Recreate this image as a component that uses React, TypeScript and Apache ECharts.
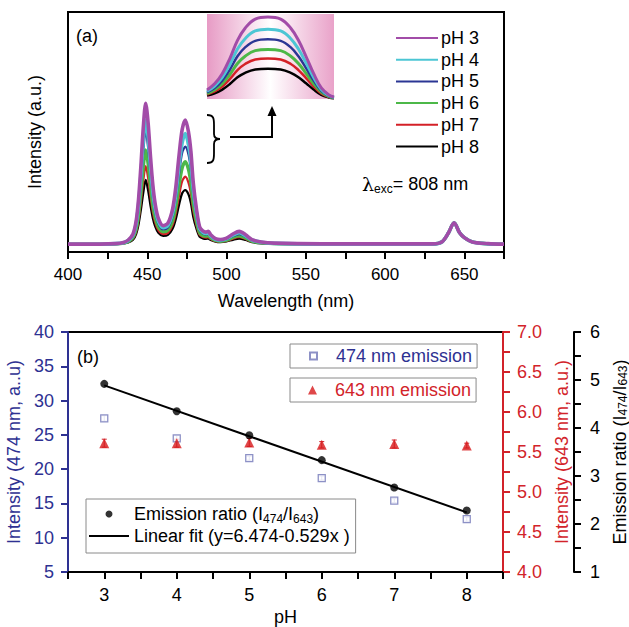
import React, { useEffect, useRef } from 'react';
import * as echarts from 'echarts';

// ---------- Panel (a): emission spectra ----------
const wavelengths = [400, 420, 430, 435, 438, 441, 443, 444.5, 446, 447.5, 449, 450.5, 452, 453.5, 455, 457, 460, 463, 466, 468, 470, 472, 474, 476, 477.5, 479, 481, 483, 485, 487, 488.5, 490, 493, 496, 500, 504, 508, 512, 516, 522, 530, 560, 600, 630, 636, 640, 643.5, 647, 650, 655, 665, 675];
const specPH3 = [3.3, 3.3, 3.5, 4.0, 5.0, 7.5, 13, 22, 36, 52, 62, 54, 40, 28, 20, 14, 11, 12, 18, 27, 40, 51, 55, 50, 42, 29, 18, 10.5, 8.8, 8.3, 8.6, 7.2, 5.6, 5.2, 5.8, 7.5, 8.6, 7.2, 5.2, 4.2, 3.7, 3.4, 3.4, 3.4, 4.3, 8.0, 12.2, 8.0, 6.0, 4.2, 3.5, 3.3];
const specPH4 = [3.2, 3.2, 3.5, 3.9, 4.8, 7.0, 11.9, 19.8, 32.2, 46.4, 55.0, 48.2, 35.8, 25.1, 18.1, 12.8, 10.1, 11.0, 16.3, 24.3, 35.8, 45.5, 49.4, 44.6, 37.5, 26.0, 16.3, 9.7, 8.2, 7.7, 8.0, 6.7, 5.3, 5.0, 5.5, 7.0, 8.0, 6.7, 5.0, 4.1, 3.6, 3.3, 3.3, 3.3, 4.3, 8.0, 12.2, 8.0, 6.0, 4.2, 3.4, 3.2];
const specPH5 = [3.2, 3.2, 3.4, 3.8, 4.6, 6.6, 11.0, 18.2, 29.4, 42.2, 50.8, 43.8, 32.6, 23.0, 16.6, 11.8, 9.4, 10.2, 15.0, 22.2, 32.6, 41.4, 43.9, 40.6, 34.2, 23.8, 15.0, 9.0, 7.7, 7.3, 7.5, 6.4, 5.1, 4.8, 5.3, 6.6, 7.5, 6.4, 4.8, 4.0, 3.6, 3.3, 3.3, 3.3, 4.3, 8.0, 12.2, 8.0, 6.0, 4.2, 3.4, 3.2];
const specPH6 = [3.2, 3.2, 3.4, 3.7, 4.4, 6.1, 9.7, 15.7, 25.0, 35.7, 42.5, 37.0, 27.7, 19.7, 14.4, 10.4, 8.4, 9.1, 13.1, 19.1, 27.7, 35.0, 37.6, 34.4, 29.0, 20.4, 13.1, 8.1, 6.9, 6.6, 6.8, 5.9, 4.8, 4.5, 4.9, 6.1, 6.8, 5.9, 4.5, 3.9, 3.5, 3.3, 3.3, 3.3, 4.3, 8.0, 12.2, 8.0, 6.0, 4.2, 3.4, 3.2];
const specPH7 = [3.2, 3.2, 3.4, 3.6, 4.2, 5.6, 8.6, 13.5, 21.2, 30.0, 35.8, 31.1, 23.4, 16.8, 12.4, 9.1, 7.5, 8.0, 11.3, 16.3, 23.4, 29.5, 31.4, 28.9, 24.5, 17.4, 11.3, 7.2, 6.3, 6.0, 6.2, 5.4, 4.5, 4.3, 4.6, 5.6, 6.2, 5.4, 4.3, 3.8, 3.5, 3.3, 3.3, 3.3, 4.3, 8.0, 12.2, 8.0, 6.0, 4.2, 3.4, 3.2];
const specPH8 = [3.1, 3.1, 3.3, 3.6, 4.0, 5.1, 7.6, 11.6, 17.8, 24.9, 30.0, 25.8, 19.6, 14.2, 10.7, 8.0, 6.7, 7.1, 9.8, 13.8, 19.6, 24.5, 25.8, 24.0, 20.5, 14.7, 9.8, 6.4, 5.7, 5.5, 5.6, 5.0, 4.3, 4.1, 4.4, 5.1, 5.6, 5.0, 4.1, 3.6, 3.4, 3.2, 3.2, 3.2, 4.2, 7.9, 12.1, 7.9, 5.9, 4.1, 3.3, 3.1];
const xTicksA = [400, 450, 500, 550, 600, 650];

// inset: magnified top of the 474 nm band
const insetX = [468, 468.75, 469.5, 470.25, 471, 471.75, 472.75, 474, 475.25, 476.25, 477, 477.75, 478.5, 479.25, 480, 480.5];
const insetPH3 = [9, 15, 25, 40, 58, 70, 79, 81, 79, 70, 58, 42, 25, 11, 4, 2];
const insetPH4 = [7.7, 12.8, 21.3, 34.1, 49.4, 59.6, 67.3, 69, 67.3, 59.6, 49.4, 35.8, 21.3, 9.4, 3.4, 1.7];
const insetPH5 = [6.6, 10.9, 18.2, 29.1, 42.2, 51, 57.5, 59, 57.5, 51, 42.2, 30.6, 18.2, 8, 2.9, 1.5];
const insetPH6 = [5.4, 9.1, 15.1, 24.2, 35.1, 42.3, 47.8, 49, 47.8, 42.3, 35.1, 25.4, 15.1, 6.7, 2.4, 1.2];
const insetPH7 = [4.4, 7.4, 12.3, 19.8, 28.6, 34.6, 39, 40, 39, 34.6, 28.6, 20.7, 12.3, 5.4, 2, 1];
const insetPH8 = [3.3, 5.6, 9.3, 14.8, 21.5, 25.9, 29.2, 30, 29.2, 25.9, 21.5, 15.5, 9.3, 4.1, 1.5, 0.7];

const phNames = ['pH 3', 'pH 4', 'pH 5', 'pH 6', 'pH 7', 'pH 8'];

// ---------- Panel (b) ----------
const phValues = [3, 4, 5, 6, 7, 8];
const int474 = [27.4, 24.5, 21.6, 18.7, 15.4, 12.7];
const err474 = [0.4, 0.4, 0.3, 0.3, 0.3, 0.3];
const int643 = [5.61, 5.61, 5.62, 5.59, 5.6, 5.58];
const err643 = [0.05, 0.05, 0.05, 0.04, 0.05, 0.03];
const ratio = [4.92, 4.35, 3.85, 3.33, 2.76, 2.28];
const fitX = [3, 8];
const fitY = [4.887, 2.242];

const FONT = '"Liberation Sans", Arial, sans-serif';
const BLUE = '#2e3192';
const RED = '#d2232a';
const SPEC_STYLE = [
  { color: '#a24ca8', width: 3.6 },
  { color: '#4cc6d4', width: 3.6 },
  { color: '#2b3694', width: 2.3 },
  { color: '#4cb848', width: 3.4 },
  { color: '#d42027', width: 2.3 },
  { color: '#000000', width: 2.3 },
];
const INSET_WIDTH = [3, 3, 2.5, 3, 2.5, 2.5];

const RATIO_NAME = 'Emission ratio (I474/I643)';
const FIT_NAME = 'Linear fit (y=6.474-0.529x )';

const subRich = {
  n: { fontSize: 18, lineHeight: 22, fontFamily: FONT },
  s: { fontSize: 12, lineHeight: 12, verticalAlign: 'bottom', fontFamily: FONT },
  l: { fontSize: 19, lineHeight: 22, fontFamily: '"DejaVu Serif", serif' },
};
const axisSubRich = {
  n: { fontSize: 18, lineHeight: 19, fontFamily: FONT },
  s: { fontSize: 12, lineHeight: 12, verticalAlign: 'bottom', fontFamily: FONT },
};

export default function App() {
  const ref = useRef<HTMLDivElement>(null);

  useEffect(() => {
    if (!ref.current) return;
    echarts.graphic.registerShape(
      'brace',
      echarts.graphic.extendPath(
        'M0,0 C7,0 7,4 7,10 L7,19 C7,23 9,24 13,24 C9,24 7,25 7,29 L7,38 C7,44 7,48 0,48',
        {}
      )
    );
    const chart = echarts.init(ref.current, undefined, { renderer: 'svg' });

    const specs = [specPH3, specPH4, specPH5, specPH6, specPH7, specPH8];
    const insets = [insetPH3, insetPH4, insetPH5, insetPH6, insetPH7, insetPH8];

    const spectraSeries: any[] = [];
    const insetSeries: any[] = [];
    for (let k = 5; k >= 0; k--) {
      spectraSeries.push({
        name: phNames[k],
        type: 'line',
        xAxisIndex: 0,
        yAxisIndex: 0,
        data: wavelengths.map((w, i) => [w, specs[k][i]]),
        symbol: 'none',
        showSymbol: false,
        smooth: 0.3,
        lineStyle: { color: SPEC_STYLE[k].color, width: SPEC_STYLE[k].width },
        itemStyle: { color: SPEC_STYLE[k].color },
        z: 10 - k,
      });
      insetSeries.push({
        name: 'inset ' + phNames[k],
        type: 'line',
        xAxisIndex: 2,
        yAxisIndex: 4,
        data: insetX.map((w, i) => [w, insets[k][i]]),
        symbol: 'none',
        showSymbol: false,
        smooth: 0.4,
        clip: true,
        lineStyle: { color: SPEC_STYLE[k].color, width: INSET_WIDTH[k] },
        itemStyle: { color: SPEC_STYLE[k].color },
        z: 10 - k,
      });
    }

    const errorBar = (color: string) => (params: any, api: any) => {
      const x = api.value(0);
      const lo = api.coord([x, api.value(1)]);
      const hi = api.coord([x, api.value(2)]);
      const c = 2.5;
      const st = { stroke: color, lineWidth: 1 };
      return {
        type: 'group',
        children: [
          { type: 'line', shape: { x1: lo[0], y1: lo[1], x2: hi[0], y2: hi[1] }, style: st },
          { type: 'line', shape: { x1: lo[0] - c, y1: lo[1], x2: lo[0] + c, y2: lo[1] }, style: st },
          { type: 'line', shape: { x1: hi[0] - c, y1: hi[1], x2: hi[0] + c, y2: hi[1] }, style: st },
        ],
      };
    };

    const axisLineBlack = { show: true, onZero: false, lineStyle: { color: '#000', width: 2 } };

    const option: any = {
      animation: false,
      textStyle: { fontFamily: FONT },
      grid: [
        { left: 68, top: 12, width: 436, height: 240, show: true, borderColor: '#000', borderWidth: 2, backgroundColor: 'transparent', containLabel: false, outerBoundsMode: 'none' },
        { left: 68, top: 332, width: 435, height: 240, show: true, borderColor: '#000', borderWidth: 2, backgroundColor: 'transparent', containLabel: false, outerBoundsMode: 'none' },
        {
          left: 207, top: 14, width: 127, height: 85, show: true, borderWidth: 0, containLabel: false, outerBoundsMode: 'none',
          backgroundColor: new echarts.graphic.LinearGradient(0, 0, 1, 0, [
            { offset: 0, color: '#e79bc5' },
            { offset: 0.5, color: '#ffffff' },
            { offset: 1, color: '#e9a2c9' },
          ]),
        },
      ],
      xAxis: [
        {
          gridIndex: 0, type: 'value', min: 400, max: 675, interval: 25,
          name: 'Wavelength (nm)', nameLocation: 'middle', nameGap: 40,
          nameTextStyle: { fontSize: 18, color: '#000', fontFamily: FONT },
          axisLine: axisLineBlack,
          axisTick: { show: true, inside: false, length: 7, lineStyle: { color: '#000', width: 2 } },
          axisLabel: {
            fontSize: 17, color: '#000', margin: 14,
            formatter: (v: number) => (xTicksA.includes(v) ? String(v) : ''),
          },
          splitLine: { show: false },
        },
        {
          gridIndex: 1, type: 'value', min: 2.5, max: 8.5, interval: 0.5,
          name: 'pH', nameLocation: 'middle', nameGap: 36,
          nameTextStyle: { fontSize: 18, color: '#000', fontFamily: FONT },
          axisLine: axisLineBlack,
          axisTick: { show: true, inside: false, length: 7, lineStyle: { color: '#000', width: 2 } },
          axisLabel: {
            fontSize: 18, color: '#000', margin: 14,
            formatter: (v: number) => (phValues.includes(v) ? String(v) : ''),
          },
          splitLine: { show: false },
        },
        { gridIndex: 2, type: 'value', min: 468, max: 480.5, show: false, splitLine: { show: false } },
      ],
      yAxis: [
        {
          gridIndex: 0, type: 'value', min: 0, max: 100,
          name: 'Intensity (a.u.)', nameLocation: 'middle', nameGap: 24, nameRotate: 90,
          nameTextStyle: { fontSize: 18, color: '#000', fontFamily: FONT },
          axisLine: axisLineBlack, axisTick: { show: false }, axisLabel: { show: false }, splitLine: { show: false },
        },
        {
          gridIndex: 1, type: 'value', min: 5, max: 40, interval: 5, position: 'left',
          name: 'Intensity (474 nm, a..u)', nameLocation: 'middle', nameGap: 42, nameRotate: 90,
          nameTextStyle: { fontSize: 18, color: BLUE, fontFamily: FONT },
          axisLine: { show: true, onZero: false, lineStyle: { color: BLUE, width: 2 } },
          axisTick: { show: true, inside: false, length: 7, lineStyle: { color: BLUE, width: 2 } },
          axisLabel: { fontSize: 18, color: BLUE, margin: 14 },
          splitLine: { show: false },
        },
        {
          gridIndex: 1, type: 'value', min: 4, max: 7, interval: 0.25, position: 'right',
          name: 'Intensity (643 nm, a.u.)', nameLocation: 'middle', nameGap: 44, nameRotate: 90,
          nameTextStyle: { fontSize: 18, color: RED, fontFamily: FONT },
          axisLine: { show: true, onZero: false, lineStyle: { color: RED, width: 2 } },
          axisTick: { show: true, inside: false, length: 7, lineStyle: { color: RED, width: 2 } },
          axisLabel: {
            fontSize: 18, color: RED, margin: 14,
            formatter: (v: number) => (Math.abs(v * 2 - Math.round(v * 2)) < 1e-6 ? v.toFixed(1) : ''),
          },
          splitLine: { show: false },
        },
        {
          gridIndex: 1, type: 'value', min: 1, max: 6, interval: 0.5, position: 'right', offset: 71,
          name: '{n|Emission ratio (I}{s|474}{n|/I}{s|643}{n|)}', nameLocation: 'middle', nameGap: 30, nameRotate: 90,
          nameTextStyle: { fontSize: 18, color: '#000', fontFamily: FONT, rich: axisSubRich },
          axisLine: { show: true, onZero: false, lineStyle: { color: '#000', width: 2 } },
          axisTick: { show: true, inside: false, length: 7, lineStyle: { color: '#000', width: 2 } },
          axisLabel: {
            fontSize: 18, color: '#000', margin: 16,
            formatter: (v: number) => (Math.abs(v - Math.round(v)) < 1e-6 ? String(Math.round(v)) : ''),
          },
          splitLine: { show: false },
        },
        { gridIndex: 2, type: 'value', min: 0, max: 84, show: false, splitLine: { show: false } },
      ],
      legend: [
        {
          data: phNames, orient: 'vertical', left: 395, top: 29, padding: 0,
          itemWidth: 42, itemHeight: 18, itemGap: 3.7,
          itemStyle: { opacity: 0 },
          textStyle: { fontSize: 18, color: '#000', lineHeight: 18, fontFamily: FONT, padding: [0, 0, 0, -2] },
          selectedMode: false,
        },
        {
          data: ['474 nm emission'], left: 290, top: 344, padding: [3, 5, 3, 19],
          itemWidth: 7, itemHeight: 7, borderColor: '#8a8a8a', borderWidth: 1, backgroundColor: '#fff',
          textStyle: { fontSize: 18, color: BLUE, lineHeight: 18, fontFamily: FONT, padding: [0, 0, 0, 14] },
          selectedMode: false,
        },
        {
          data: ['643 nm emission'], left: 290, top: 378, padding: [3, 5, 3, 18],
          itemWidth: 9, itemHeight: 9, borderColor: '#8a8a8a', borderWidth: 1, backgroundColor: '#fff',
          textStyle: { fontSize: 18, color: RED, lineHeight: 18, fontFamily: FONT, padding: [0, 0, 0, 13] },
          selectedMode: false,
        },
        {
          data: [RATIO_NAME, { name: FIT_NAME, itemStyle: { opacity: 0 } }],
          orient: 'vertical', left: 86, top: 499, padding: [4, 6, 6, 2], itemGap: 0,
          itemWidth: 40, itemHeight: 7, borderColor: '#8a8a8a', borderWidth: 1, backgroundColor: '#fff',
          formatter: (name: string) =>
            name === RATIO_NAME ? '{n|Emission ratio (I}{s|474}{n|/I}{s|643}{n|)}' : '{n|' + name + '}',
          textStyle: { fontSize: 18, color: '#000', lineHeight: 18, fontFamily: FONT, rich: subRich },
          selectedMode: false,
        },
      ],
      graphic: [
        { type: 'text', left: 76, top: 27, z: 100, style: { text: '(a)', fontSize: 18, fill: '#000', fontFamily: FONT } },
        { type: 'text', left: 77, top: 348, z: 100, style: { text: '(b)', fontSize: 18, fill: '#000', fontFamily: FONT } },
        {
          type: 'text', left: 362, top: 174, z: 100,
          style: { text: '{l|λ}{s|exc}{n|= 808 nm}', rich: subRich, fill: '#000', fontFamily: FONT, fontSize: 18 },
        },
        { type: 'brace', x: 207, y: 115, z: 100, style: { stroke: '#000', fill: 'none', lineWidth: 1.8 } },
        {
          type: 'polyline', z: 100,
          shape: { points: [[230, 137], [272, 137], [272, 114]] },
          style: { stroke: '#000', lineWidth: 2, fill: 'none' },
        },
        {
          type: 'polygon', z: 100,
          shape: { points: [[267.5, 116], [276.5, 116], [272, 106]] },
          style: { fill: '#000' },
        },
      ],
      series: [
        ...spectraSeries,
        ...insetSeries,
        {
          name: '474 error', type: 'custom', xAxisIndex: 1, yAxisIndex: 1,
          renderItem: errorBar('#7b7fbf'),
          data: phValues.map((p, i) => [p, int474[i] - err474[i], int474[i] + err474[i]]),
          z: 3,
        },
        {
          name: '643 error', type: 'custom', xAxisIndex: 1, yAxisIndex: 2,
          renderItem: errorBar(RED),
          data: phValues.map((p, i) => [p, int643[i] - err643[i], int643[i] + err643[i]]),
          z: 3,
        },
        {
          name: '474 nm emission', type: 'scatter', xAxisIndex: 1, yAxisIndex: 1,
          data: phValues.map((p, i) => [p, int474[i]]),
          symbol: 'rect', symbolSize: 7,
          itemStyle: { color: '#ffffff', borderColor: '#7075b8', borderWidth: 1.3 },
          z: 4,
        },
        {
          name: '643 nm emission', type: 'scatter', xAxisIndex: 1, yAxisIndex: 2,
          data: phValues.map((p, i) => [p, int643[i]]),
          symbol: 'triangle', symbolSize: 10,
          itemStyle: { color: '#d7191c' },
          z: 4,
        },
        {
          name: FIT_NAME, type: 'line', xAxisIndex: 1, yAxisIndex: 3,
          data: fitX.map((x, i) => [x, fitY[i]]),
          symbol: 'none', showSymbol: false,
          lineStyle: { color: '#000', width: 2 },
          itemStyle: { color: '#000' },
          z: 5,
        },
        {
          name: RATIO_NAME, type: 'scatter', xAxisIndex: 1, yAxisIndex: 3,
          data: phValues.map((p, i) => [p, ratio[i]]),
          symbol: 'circle', symbolSize: 8,
          itemStyle: { color: '#000' },
          z: 6,
        },
      ],
    };

    chart.setOption(option);
    return () => chart.dispose();
  }, []);

  return (
    <div
      ref={ref}
      style={{ position: 'fixed', left: 0, top: 0, width: '629px', height: '627px', background: '#fff' }}
    />
  );
}
